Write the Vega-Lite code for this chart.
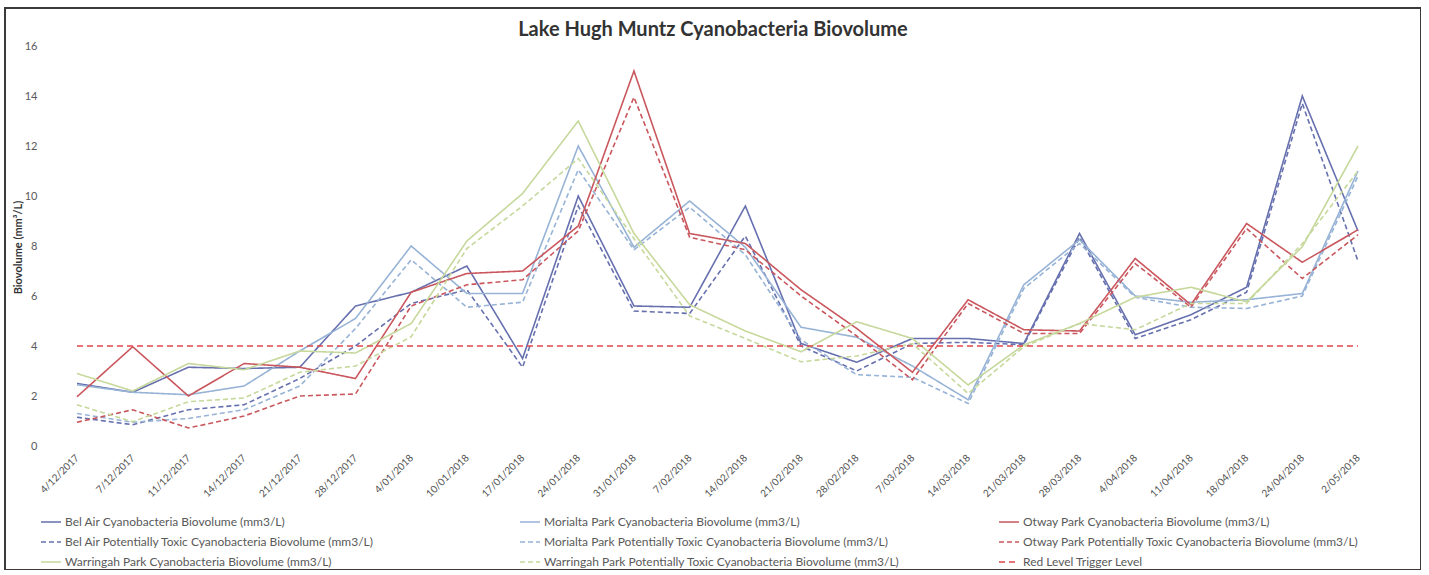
{
  "$schema": "https://vega.github.io/schema/vega-lite/v6.json",
  "autosize": {"type": "none"},
  "padding": {"left": 5, "top": 8, "right": 0, "bottom": 0},
  "width": 1416,
  "height": 562,
  "background": "white",
  "title": {
    "text": "Lake Hugh Muntz Cyanobacteria Biovolume",
    "font": "Lato",
    "fontSize": 20,
    "fontWeight": "bold",
    "color": "#333333",
    "anchor": "middle",
    "frame": "group",
    "baseline": "alphabetic",
    "offset": -48
  },
  "data": {
    "values": [
      {"d": "4/12/2017", "BA": 2.5, "BAT": 1.15, "MP": 2.45, "MPT": 1.3, "OP": 1.97, "OPT": 0.95, "WP": 2.9, "WPT": 1.65, "RL": 4},
      {"d": "7/12/2017", "BA": 2.15, "BAT": 0.85, "MP": 2.15, "MPT": 0.95, "OP": 3.97, "OPT": 1.45, "WP": 2.2, "WPT": 0.97, "RL": 4},
      {"d": "11/12/2017", "BA": 3.15, "BAT": 1.45, "MP": 2.05, "MPT": 1.1, "OP": 2.0, "OPT": 0.72, "WP": 3.3, "WPT": 1.77, "RL": 4},
      {"d": "14/12/2017", "BA": 3.1, "BAT": 1.65, "MP": 2.4, "MPT": 1.45, "OP": 3.3, "OPT": 1.2, "WP": 3.05, "WPT": 1.92, "RL": 4},
      {"d": "21/12/2017", "BA": 3.15, "BAT": 2.7, "MP": 3.8, "MPT": 2.4, "OP": 3.15, "OPT": 2.0, "WP": 3.8, "WPT": 2.95, "RL": 4},
      {"d": "28/12/2017", "BA": 5.6, "BAT": 4.0, "MP": 5.1, "MPT": 4.7, "OP": 2.7, "OPT": 2.08, "WP": 3.72, "WPT": 3.2, "RL": 4},
      {"d": "4/01/2018", "BA": 6.15, "BAT": 5.7, "MP": 8.0, "MPT": 7.45, "OP": 6.15, "OPT": 5.6, "WP": 4.9, "WPT": 4.37, "RL": 4},
      {"d": "10/01/2018", "BA": 7.2, "BAT": 6.25, "MP": 6.1, "MPT": 5.55, "OP": 6.9, "OPT": 6.45, "WP": 8.2, "WPT": 7.9, "RL": 4},
      {"d": "17/01/2018", "BA": 3.5, "BAT": 3.15, "MP": 6.1, "MPT": 5.75, "OP": 7.0, "OPT": 6.65, "WP": 10.1, "WPT": 9.6, "RL": 4},
      {"d": "24/01/2018", "BA": 10.0, "BAT": 9.6, "MP": 12.0, "MPT": 11.05, "OP": 8.8, "OPT": 8.6, "WP": 13.0, "WPT": 11.5, "RL": 4},
      {"d": "31/01/2018", "BA": 5.6, "BAT": 5.4, "MP": 7.95, "MPT": 7.85, "OP": 15.0, "OPT": 13.95, "WP": 8.5, "WPT": 8.3, "RL": 4},
      {"d": "7/02/2018", "BA": 5.55, "BAT": 5.3, "MP": 9.8, "MPT": 9.55, "OP": 8.5, "OPT": 8.35, "WP": 5.65, "WPT": 5.2, "RL": 4},
      {"d": "14/02/2018", "BA": 9.6, "BAT": 8.4, "MP": 7.95, "MPT": 7.65, "OP": 8.1, "OPT": 7.85, "WP": 4.6, "WPT": 4.3, "RL": 4},
      {"d": "21/02/2018", "BA": 4.1, "BAT": 4.0, "MP": 4.75, "MPT": 4.25, "OP": 6.25, "OPT": 6.0, "WP": 3.77, "WPT": 3.37, "RL": 4},
      {"d": "28/02/2018", "BA": 3.35, "BAT": 3.0, "MP": 4.35, "MPT": 2.85, "OP": 4.7, "OPT": 4.4, "WP": 4.97, "WPT": 3.6, "RL": 4},
      {"d": "7/03/2018", "BA": 4.3, "BAT": 4.1, "MP": 3.2, "MPT": 2.75, "OP": 2.95, "OPT": 2.65, "WP": 4.3, "WPT": 4.1, "RL": 4},
      {"d": "14/03/2018", "BA": 4.3, "BAT": 4.15, "MP": 1.85, "MPT": 1.7, "OP": 5.85, "OPT": 5.7, "WP": 2.44, "WPT": 2.1, "RL": 4},
      {"d": "21/03/2018", "BA": 4.1, "BAT": 4.05, "MP": 6.45, "MPT": 6.3, "OP": 4.65, "OPT": 4.5, "WP": 4.04, "WPT": 3.97, "RL": 4},
      {"d": "28/03/2018", "BA": 8.5, "BAT": 8.35, "MP": 8.25, "MPT": 8.1, "OP": 4.6, "OPT": 4.5, "WP": 4.9, "WPT": 4.9, "RL": 4},
      {"d": "4/04/2018", "BA": 4.45, "BAT": 4.3, "MP": 6.0, "MPT": 5.95, "OP": 7.5, "OPT": 7.3, "WP": 5.95, "WPT": 4.65, "RL": 4},
      {"d": "11/04/2018", "BA": 5.25, "BAT": 5.05, "MP": 5.75, "MPT": 5.55, "OP": 5.65, "OPT": 5.55, "WP": 6.35, "WPT": 5.7, "RL": 4},
      {"d": "18/04/2018", "BA": 6.35, "BAT": 6.15, "MP": 5.85, "MPT": 5.5, "OP": 8.9, "OPT": 8.7, "WP": 5.77, "WPT": 5.7, "RL": 4},
      {"d": "24/04/2018", "BA": 14.0, "BAT": 13.7, "MP": 6.1, "MPT": 6.0, "OP": 7.35, "OPT": 6.7, "WP": 7.97, "WPT": 8.1, "RL": 4},
      {"d": "2/05/2018", "BA": 8.6, "BAT": 7.4, "MP": 11.0, "MPT": 10.8, "OP": 8.65, "OPT": 8.45, "WP": 12.0, "WPT": 11.0, "RL": 4}
    ]
  },
  "transform": [
    {"fold": ["BA", "BAT", "MP", "MPT", "OP", "OPT", "WP", "WPT", "RL"], "as": ["series", "value"]}
  ],
  "mark": {"type": "line", "strokeWidth": 1.6},
  "encoding": {
    "x": {
      "field": "d",
      "type": "ordinal",
      "sort": null,
      "scale": {"type": "point", "range": [72, 1353], "padding": 0},
      "axis": {
        "title": null,
        "orient": "bottom",
        "offset": -124,
        "domain": false,
        "ticks": false,
        "labelAngle": -45,
        "labelAlign": "right",
        "labelBaseline": "middle",
        "labelPadding": 10,
        "labelFont": "Lato",
        "labelFontSize": 10,
        "labelColor": "#505050",
        "labelOverlap": false
      }
    },
    "y": {
      "field": "value",
      "type": "quantitative",
      "scale": {"domain": [0, 16], "range": [438, 38], "nice": false},
      "axis": {
        "title": "Biovolume (mm³/L)",
        "orient": "left",
        "offset": -35,
        "values": [0, 2, 4, 6, 8, 10, 12, 14, 16],
        "domain": false,
        "ticks": false,
        "grid": false,
        "labelPadding": 3,
        "labelFont": "Lato",
        "labelFontSize": 11,
        "labelColor": "#595959",
        "titleFont": "Lato",
        "titleFontSize": 11,
        "titleFontWeight": "bold",
        "titleColor": "#333333",
        "titleX": -22,
        "titleY": 239,
        "titleAngle": 270,
        "titleAlign": "center",
        "titleBaseline": "middle"
      }
    },
    "color": {
      "field": "series",
      "type": "nominal",
      "scale": {
        "domain": ["BA", "BAT", "WP", "MP", "MPT", "WPT", "OP", "OPT", "RL"],
        "range": ["#6670AE", "#6670AE", "#C6D89B", "#97B3D6", "#97B3D6", "#C6D89B", "#C9575D", "#C9575D", "#E4464C"]
      },
      "legend": {
        "title": null,
        "labelExpr": "datum.label == 'BA' ? 'Bel Air Cyanobacteria Biovolume (mm3/L)' : datum.label == 'BAT' ? 'Bel Air Potentially Toxic Cyanobacteria Biovolume (mm3/L)' : datum.label == 'MP' ? 'Morialta Park Cyanobacteria Biovolume (mm3/L)' : datum.label == 'MPT' ? 'Morialta Park Potentially Toxic Cyanobacteria Biovolume (mm3/L)' : datum.label == 'OP' ? 'Otway Park Cyanobacteria Biovolume (mm3/L)' : datum.label == 'OPT' ? 'Otway Park Potentially Toxic Cyanobacteria Biovolume (mm3/L)' : datum.label == 'WP' ? 'Warringah Park Cyanobacteria Biovolume (mm3/L)' : datum.label == 'WPT' ? 'Warringah Park Potentially Toxic Cyanobacteria Biovolume (mm3/L)' : 'Red Level Trigger Level'"
      }
    },
    "strokeDash": {
      "field": "series",
      "type": "nominal",
      "scale": {
        "domain": ["BA", "BAT", "WP", "MP", "MPT", "WPT", "OP", "OPT", "RL"],
        "range": [[1, 0], [5, 3], [1, 0], [1, 0], [5, 3], [5, 3], [1, 0], [5, 3], [6, 4]]
      },
      "legend": {
        "title": null,
        "labelExpr": "datum.label == 'BA' ? 'Bel Air Cyanobacteria Biovolume (mm3/L)' : datum.label == 'BAT' ? 'Bel Air Potentially Toxic Cyanobacteria Biovolume (mm3/L)' : datum.label == 'MP' ? 'Morialta Park Cyanobacteria Biovolume (mm3/L)' : datum.label == 'MPT' ? 'Morialta Park Potentially Toxic Cyanobacteria Biovolume (mm3/L)' : datum.label == 'OP' ? 'Otway Park Cyanobacteria Biovolume (mm3/L)' : datum.label == 'OPT' ? 'Otway Park Potentially Toxic Cyanobacteria Biovolume (mm3/L)' : datum.label == 'WP' ? 'Warringah Park Cyanobacteria Biovolume (mm3/L)' : datum.label == 'WPT' ? 'Warringah Park Potentially Toxic Cyanobacteria Biovolume (mm3/L)' : 'Red Level Trigger Level'"
      }
    }
  },
  "config": {
    "view": {"stroke": "#3a3a3a", "strokeWidth": 2, "fill": "white"},
    "legend": {
      "orient": "none",
      "legendX": 35,
      "legendY": 503,
      "columns": 3,
      "gridAlign": "all",
      "columnPadding": 96,
      "rowPadding": 3,
      "padding": 0,
      "symbolType": "stroke",
      "symbolSize": 400,
      "symbolStrokeWidth": 1.5,
      "symbolOffset": 0,
      "labelFont": "Lato",
      "labelFontSize": 12,
      "labelColor": "#595959",
      "labelLimit": 500,
      "labelOffset": 3
    }
  }
}
